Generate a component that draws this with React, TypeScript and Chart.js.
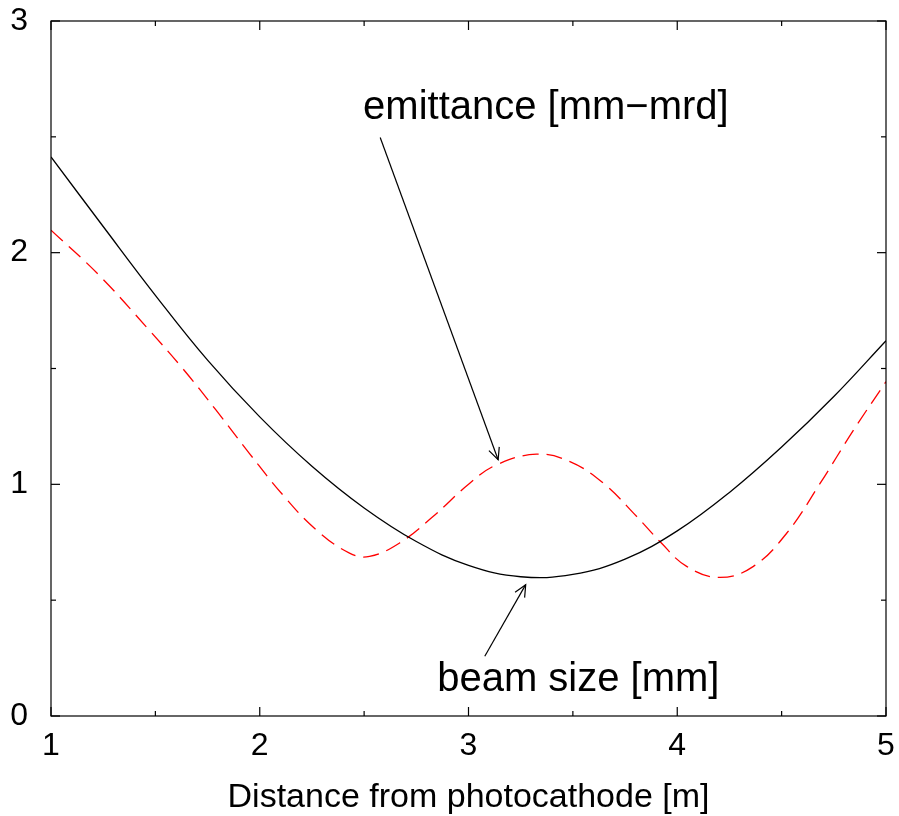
import React, { useEffect, useRef } from "react";
import { Chart, registerables } from "chart.js";

Chart.register(...registerables);

// Black solid curve: beam size [mm]
const beamX = [1, 1.25, 1.5, 1.75, 2, 2.25, 2.5, 2.75, 3, 3.25, 3.5, 3.75, 4, 4.25, 4.5, 4.75, 5];
const beamY = [2.413, 2.113, 1.816, 1.536, 1.291, 1.078, 0.898, 0.753, 0.65, 0.601, 0.611, 0.677, 0.799, 0.965, 1.161, 1.379, 1.62];

// Red dashed curve: emittance [mm-mrd]
const emitX = [1, 1.23, 1.47, 1.63, 1.79, 1.95, 2.11, 2.27, 2.43, 2.526, 2.67, 2.83, 3.006, 3.134, 3.326, 3.486, 3.646, 3.806, 3.917, 4.045, 4.205, 4.365, 4.525, 4.685, 4.845, 5.0];
const emitY = [2.097, 1.903, 1.666, 1.501, 1.321, 1.134, 0.955, 0.804, 0.703, 0.689, 0.747, 0.861, 1.005, 1.084, 1.13, 1.098, 1.005, 0.861, 0.753, 0.646, 0.598, 0.646, 0.79, 1.005, 1.235, 1.443];

// Axis tick values
const xMajorTicks = [1, 2, 3, 4, 5];
const xMinorTicks = [1.5, 2.5, 3.5, 4.5];
const yMajorTicks = [0, 1, 2, 3];
const yMinorTicks = [0.5, 1.5, 2.5];

const xTitle = "Distance from photocathode [m]";

// Labels with arrows (data coordinates)
const labelTexts = ["emittance [mm\u2212mrd]", "beam size [mm]"];
const labelAnchors = [
  [2.495, 2.577],
  [2.85, 0.109],
];
const arrowTails = [
  [2.577, 2.497],
  [3.078, 0.258],
];
const arrowHeads = [
  [3.142, 1.106],
  [3.274, 0.567],
];

const FONT = '"Liberation Sans", Arial, Helvetica, sans-serif';

const framePlugin = {
  id: "gnuFrame",
  afterDatasetsDraw(chart: any) {
    const { ctx, chartArea, scales } = chart;
    const { left, right, top, bottom } = chartArea;
    const xs = scales.x;
    const ys = scales.y;
    ctx.save();
    ctx.strokeStyle = "#000";
    ctx.lineWidth = 1.2;
    ctx.strokeRect(left, top, right - left, bottom - top);

    const seg = (x1: number, y1: number, x2: number, y2: number) => {
      ctx.beginPath();
      ctx.moveTo(x1, y1);
      ctx.lineTo(x2, y2);
      ctx.stroke();
    };
    const major = 9;
    const minor = 5;
    xMajorTicks.forEach((v) => {
      const p = xs.getPixelForValue(v);
      seg(p, bottom, p, bottom - major);
      seg(p, top, p, top + major);
    });
    xMinorTicks.forEach((v) => {
      const p = xs.getPixelForValue(v);
      seg(p, bottom, p, bottom - minor);
      seg(p, top, p, top + minor);
    });
    yMajorTicks.forEach((v) => {
      const p = ys.getPixelForValue(v);
      seg(left, p, left + major, p);
      seg(right, p, right - major, p);
    });
    yMinorTicks.forEach((v) => {
      const p = ys.getPixelForValue(v);
      seg(left, p, left + minor, p);
      seg(right, p, right - minor, p);
    });

    // arrows
    ctx.lineWidth = 1.2;
    arrowTails.forEach((t, i) => {
      const h = arrowHeads[i];
      const tx = xs.getPixelForValue(t[0]);
      const ty = ys.getPixelForValue(t[1]);
      const hx = xs.getPixelForValue(h[0]);
      const hy = ys.getPixelForValue(h[1]);
      seg(tx, ty, hx, hy);
      const ang = Math.atan2(hy - ty, hx - tx);
      const len = 13;
      const spread = (25 * Math.PI) / 180;
      ctx.beginPath();
      ctx.moveTo(hx - len * Math.cos(ang - spread), hy - len * Math.sin(ang - spread));
      ctx.lineTo(hx, hy);
      ctx.lineTo(hx - len * Math.cos(ang + spread), hy - len * Math.sin(ang + spread));
      ctx.stroke();
    });

    // labels
    ctx.fillStyle = "#000";
    ctx.font = `40px ${FONT}`;
    ctx.textAlign = "left";
    ctx.textBaseline = "alphabetic";
    labelTexts.forEach((txt, i) => {
      const a = labelAnchors[i];
      ctx.fillText(txt, xs.getPixelForValue(a[0]), ys.getPixelForValue(a[1]));
    });
    ctx.restore();
  },
};

export default function App() {
  const ref = useRef<HTMLCanvasElement>(null);
  useEffect(() => {
    if (!ref.current) return;
    const chart = new Chart(ref.current, {
      type: "scatter",
      data: {
        datasets: [
          {
            label: "beam size [mm]",
            data: beamX.map((x, i) => ({ x, y: beamY[i] })),
            showLine: true,
            borderColor: "#000000",
            borderWidth: 1.3,
            pointRadius: 0,
            tension: 0.4,
          },
          {
            label: "emittance [mm-mrd]",
            data: emitX.map((x, i) => ({ x, y: emitY[i] })),
            showLine: true,
            borderColor: "#ff0000",
            borderWidth: 1.3,
            borderDash: [16, 8],
            pointRadius: 0,
            tension: 0.4,
          },
        ],
      },
      options: {
        animation: false,
        responsive: false,
        devicePixelRatio: 1,
        layout: { padding: { top: 21, right: 13, left: 0, bottom: 0 } },
        plugins: {
          legend: { display: false },
          tooltip: { enabled: false },
        },
        scales: {
          x: {
            type: "linear",
            min: 1,
            max: 5,
            afterFit: (s: any) => {
              s.height = 100;
            },
            ticks: {
              stepSize: 1,
              autoSkip: false,
              maxRotation: 0,
              padding: 0,
              color: "#000",
              font: { size: 32, family: FONT },
            },
            grid: { display: false, drawTicks: true, tickLength: 11 },
            border: { display: false },
            title: {
              display: true,
              text: xTitle,
              color: "#000",
              font: { size: 34, family: FONT, lineHeight: 1 },
              padding: { top: 0, bottom: 1 },
            },
          },
          y: {
            type: "linear",
            min: 0,
            max: 3,
            afterFit: (s: any) => {
              s.width = 51;
            },
            ticks: {
              stepSize: 1,
              autoSkip: false,
              padding: 0,
              color: "#000",
              font: { size: 32, family: FONT },
            },
            grid: { display: false, drawTicks: true, tickLength: 23 },
            border: { display: false },
          },
        },
      },
      plugins: [framePlugin],
    });
    return () => chart.destroy();
  }, []);
  return (
    <div style={{ position: "absolute", left: 0, top: 0, width: 899, height: 816, background: "#fff" }}>
      <canvas ref={ref} width={899} height={816} style={{ display: "block" }} />
    </div>
  );
}
